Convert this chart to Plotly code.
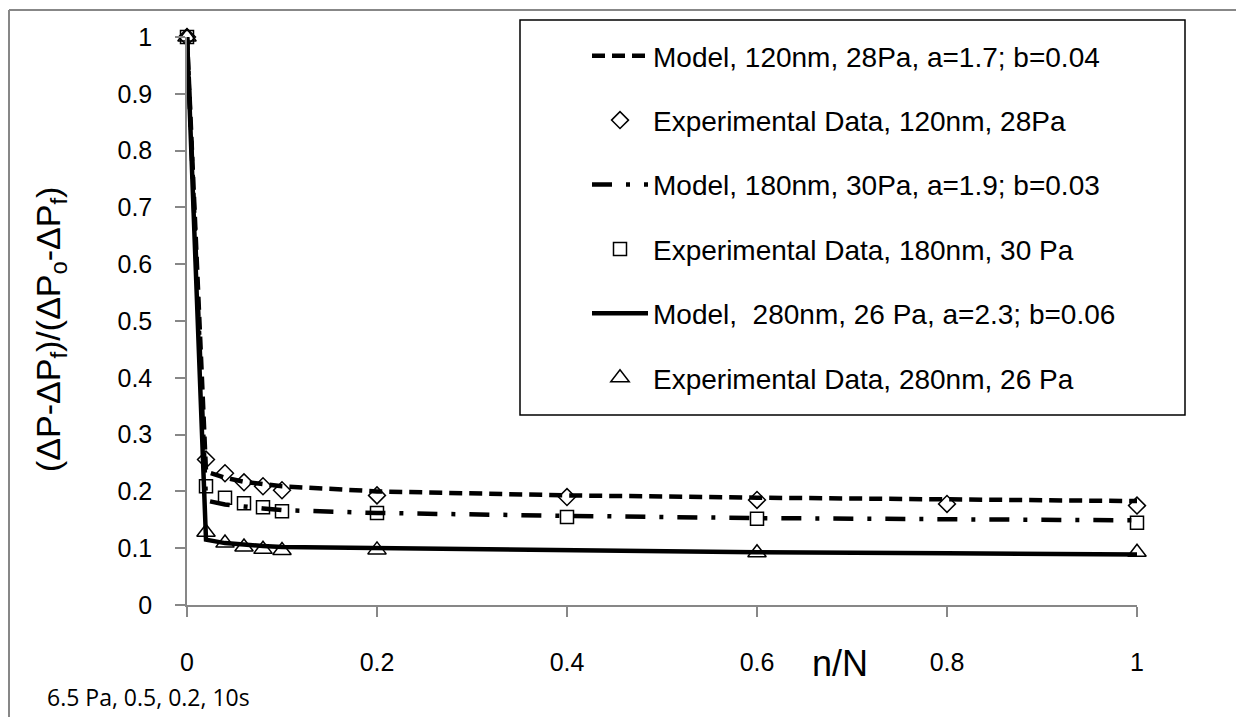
import plotly.graph_objects as go

# ---- data ----
x_model = [0, 0.02, 0.04, 0.06, 0.08, 0.1, 0.2, 0.4, 0.6, 0.8, 1.0]
model_120 = [1.0, 0.235, 0.224, 0.217, 0.213, 0.209, 0.200, 0.193, 0.189, 0.186, 0.183]
model_180 = [1.0, 0.184, 0.177, 0.173, 0.170, 0.167, 0.162, 0.157, 0.153, 0.151, 0.149]
model_280 = [1.0, 0.115, 0.109, 0.106, 0.104, 0.102, 0.100, 0.096, 0.093, 0.091, 0.089]

x_exp_120 = [0, 0.02, 0.04, 0.06, 0.08, 0.1, 0.2, 0.4, 0.6, 0.8, 1.0]
exp_120 = [1.0, 0.256, 0.232, 0.216, 0.209, 0.202, 0.193, 0.190, 0.185, 0.178, 0.175]
x_exp_180 = [0, 0.02, 0.04, 0.06, 0.08, 0.1, 0.2, 0.4, 0.6, 1.0]
exp_180 = [1.0, 0.209, 0.189, 0.179, 0.172, 0.165, 0.162, 0.155, 0.152, 0.145]
x_exp_280 = [0, 0.02, 0.04, 0.06, 0.08, 0.1, 0.2, 0.6, 1.0]
exp_280 = [1.0, 0.128, 0.109, 0.102, 0.098, 0.096, 0.097, 0.092, 0.093]

names = [
    "Model, 120nm, 28Pa, a=1.7; b=0.04",
    "Experimental Data, 120nm, 28Pa",
    "Model, 180nm, 30Pa, a=1.9; b=0.03",
    "Experimental Data, 180nm, 30 Pa",
    "Model,  280nm, 26 Pa, a=2.3; b=0.06",
    "Experimental Data, 280nm, 26 Pa",
]
x_ticks = [0, 0.2, 0.4, 0.6, 0.8, 1]
y_ticks = [0, 0.1, 0.2, 0.3, 0.4, 0.5, 0.6, 0.7, 0.8, 0.9, 1]

W, H = 1236, 717
L, R, T, B = 187, 99, 37, 112
pw, ph = W - L - R, H - T - B


def px(xp):
    return (xp - L) / pw


def py(yp):
    return (H - B - yp) / ph


FONT = "Liberation Sans, Arial, sans-serif"
GREY = "#878787"

fig = go.Figure()
LW = 4.5
fig.add_trace(go.Scatter(x=x_model, y=model_120, mode="lines", name=names[0],
                         line=dict(color="black", width=LW, dash="13px,7px"),
                         legendgroup="a"))
fig.add_trace(go.Scatter(x=x_exp_120, y=exp_120, mode="markers", name=names[1],
                         marker=dict(symbol="diamond-open", size=13, color="black",
                                     line=dict(width=1.5, color="black")),
                         legendgroup="b", cliponaxis=False))
fig.add_trace(go.Scatter(x=x_model, y=model_180, mode="lines", name=names[2],
                         line=dict(color="black", width=LW, dash="20px,14px,4px,14px"),
                         legendgroup="c"))
fig.add_trace(go.Scatter(x=x_exp_180, y=exp_180, mode="markers", name=names[3],
                         marker=dict(symbol="square-open", size=13, color="black",
                                     line=dict(width=1.5, color="black")),
                         legendgroup="d", cliponaxis=False))
fig.add_trace(go.Scatter(x=x_model, y=model_280, mode="lines", name=names[4],
                         line=dict(color="black", width=LW),
                         legendgroup="e"))
fig.add_trace(go.Scatter(x=x_exp_280, y=exp_280, mode="markers", name=names[5],
                         marker=dict(symbol="triangle-up-open", size=16, color="black",
                                     line=dict(width=1.5, color="black")),
                         legendgroup="f", cliponaxis=False))

shapes = [
    # legend frame
    dict(type="rect", xref="paper", yref="paper", x0=px(520), x1=px(1185),
         y0=py(415), y1=py(20), line=dict(color="black", width=1.5),
         fillcolor="rgba(0,0,0,0)", layer="below"),
    # outer chart frame (partially visible)
    dict(type="line", xref="paper", yref="paper", x0=px(9), x1=px(9),
         y0=py(10), y1=py(720), line=dict(color=GREY, width=2)),
    dict(type="line", xref="paper", yref="paper", x0=px(9), x1=px(1240),
         y0=py(10), y1=py(10), line=dict(color=GREY, width=2)),
]

annotations = [
    dict(text="(ΔP-ΔP<sub>f</sub>)/(ΔP<sub>o</sub>-ΔP<sub>f</sub>)", textangle=-90,
         xref="paper", yref="paper", x=px(50), y=py(330), showarrow=False,
         xanchor="center", yanchor="middle",
         font=dict(family=FONT, size=34, color="black")),
    dict(text="n/N", xref="paper", yref="paper", x=px(840), y=py(663),
         showarrow=False, xanchor="center", yanchor="middle",
         font=dict(family=FONT, size=36, color="black")),
    dict(text="6.5 Pa, 0.5, 0.2, 10s", xref="paper", yref="paper", x=px(45),
         y=py(697), showarrow=False, xanchor="left", yanchor="middle",
         font=dict(family="Open Sans, sans-serif", size=23, color="black")),
]

fig.update_layout(
    width=W, height=H,
    margin=dict(l=L, r=R, t=T, b=B, pad=0),
    paper_bgcolor="white", plot_bgcolor="white",
    showlegend=True,
    legend=dict(x=px(587), y=py(31), xanchor="left", yanchor="top",
                bgcolor="rgba(0,0,0,0)", borderwidth=0, maxheight=700,
                font=dict(family=FONT, size=28, color="black"),
                tracegroupgap=25, itemwidth=56, traceorder="grouped"),
    shapes=shapes,
    annotations=annotations,
    xaxis=dict(range=[0, 1], tickvals=x_ticks, ticktext=[f"{v:g}" for v in x_ticks],
               showgrid=False, zeroline=False, showline=True, linecolor=GREY,
               linewidth=1.5, ticks="outside", ticklen=10, tickwidth=1.5,
               tickcolor=GREY, ticklabelstandoff=24,
               tickfont=dict(family=FONT, size=25, color="black")),
    yaxis=dict(range=[0, 1], tickvals=y_ticks, ticktext=[f"{v:g}" for v in y_ticks],
               showgrid=False, zeroline=False, showline=True, linecolor=GREY,
               linewidth=1.5, ticks="outside", ticklen=10, tickwidth=1.5,
               tickcolor=GREY, ticklabelstandoff=18,
               tickfont=dict(family=FONT, size=25, color="black")),
)

fig.write_html("out.html")
